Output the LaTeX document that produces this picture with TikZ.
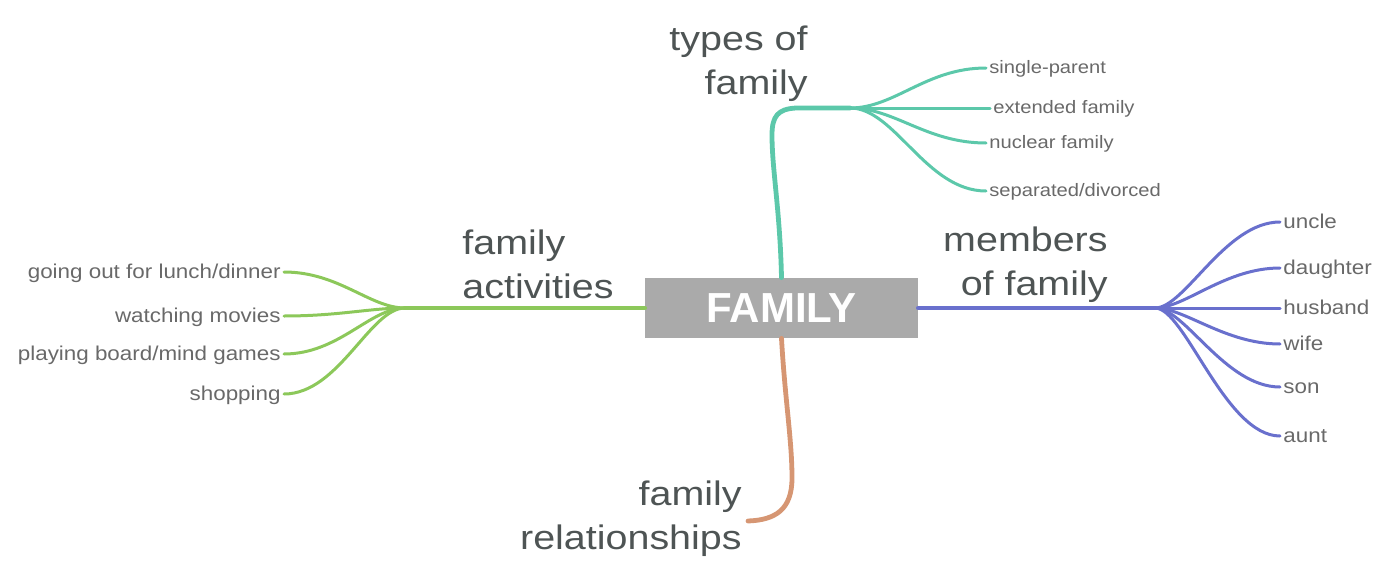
\documentclass[tikz,border=0pt]{standalone}
\usepackage{fontspec}
\setmainfont{Liberation Sans}
\newfontfamily\lblfont[FakeStretch=1.12]{Liberation Sans}
\newfontfamily\bigfont[FakeStretch=1.16]{Liberation Sans}
\definecolor{tealc}{RGB}{92,200,170}
\definecolor{bluec}{RGB}{105,112,205}
\definecolor{greenc}{RGB}{140,200,90}
\definecolor{orangec}{RGB}{214,150,115}
\definecolor{boxgray}{RGB}{170,170,170}
\definecolor{lblgray}{RGB}{78,84,84}
\definecolor{leafgray}{RGB}{105,105,105}
\begin{document}
\begin{tikzpicture}[x=0.5pt,y=-0.5pt,
  trunk/.style={line width=2.4pt, line cap=round},
  twig/.style={line width=1.5pt, line cap=round},
  branchlbl/.style={inner sep=0pt, text=lblgray, font=\bigfont\fontsize{17}{22}\selectfont},
  leafs/.style={inner sep=1.5pt, text=leafgray, text height=7pt, text depth=2pt, font=\lblfont\fontsize{9}{11}\selectfont},
  leafm/.style={inner sep=1.5pt, text=leafgray, text height=8pt, text depth=2pt, font=\lblfont\fontsize{10}{12}\selectfont},
  leafa/.style={inner sep=1.5pt, text=leafgray, text height=8pt, text depth=2pt, font=\lblfont\fontsize{10}{12}\selectfont}]
\useasboundingbox (0,0) rectangle (1398,573);

% central box
\node (fam) [fill=boxgray, minimum width=136.5pt, minimum height=30pt, inner sep=0pt,
  text=white, font=\fontsize{21}{24}\selectfont\bfseries] at (781.5,308) {FAMILY};

% branch labels
\node (ty) [branchlbl, align=right, anchor=north east] at (808,25) {types of\\family};
\node (ac) [branchlbl, align=left, anchor=north west] at (462,229) {family\\activities};
\node (mb) [branchlbl, align=right, anchor=north east] at (1108,226) {members\\of family};
\node (rl) [branchlbl, align=right, anchor=north east] at (742,480) {family\\relationships};

% hubs
\coordinate (tyhub) at (850,108);
\coordinate (mbhub) at (1155,308);
\coordinate (achub) at (405,308);
\coordinate (relend) at (748,521);

% types leaves
\node (t1) [leafs, anchor=west] at (986,68) {single-parent};
\node (t2) [leafs, anchor=west] at (990,108) {extended family};
\node (t3) [leafs, anchor=west] at (986,143) {nuclear family};
\node (t4) [leafs, anchor=west] at (986,191) {separated/divorced};

% members leaves
\node (m1) [leafm, anchor=west] at (1280,222) {uncle};
\node (m2) [leafm, anchor=west] at (1280,268) {daughter};
\node (m3) [leafm, anchor=west] at (1280,308) {husband};
\node (m4) [leafm, anchor=west] at (1280,344) {wife};
\node (m5) [leafm, anchor=west] at (1280,387) {son};
\node (m6) [leafm, anchor=west] at (1280,436) {aunt};

% activities leaves
\node (a1) [leafa, anchor=east] at (284,272) {going out for lunch/dinner};
\node (a2) [leafa, anchor=east] at (284,316) {watching movies};
\node (a3) [leafa, anchor=east] at (284,354) {playing board/mind games};
\node (a4) [leafa, anchor=east] at (284,394) {shopping};

% types branch
\draw[trunk, tealc] (fam.north) .. controls (780,210) and (772,170) .. (772,135)
  .. controls (772,116) and (778,109) .. (796,108) -- (tyhub);
\foreach \t in {t1,t2,t3,t4}
  \draw[twig, tealc] (tyhub) .. controls +(45,0) and +(-60,0) .. (\t.west);

% members branch
\draw[trunk, bluec] (fam.east) -- (mbhub);
\foreach \m in {m1,m2,m3,m4,m5,m6}
  \draw[twig, bluec] (mbhub) .. controls +(30,0) and +(-55,0) .. (\m.west);

% activities branch
\draw[trunk, greenc] (fam.west) -- (achub);
\foreach \a in {a1,a2,a3,a4}
  \draw[twig, greenc] (achub) .. controls +(-35,0) and +(55,0) .. (\a.east);

% relationships branch
\draw[trunk, orangec] (fam.south) .. controls (785,400) and (792,440) .. (792,478)
  .. controls (792,510) and (775,520) .. (relend);
\end{tikzpicture}
\end{document}
